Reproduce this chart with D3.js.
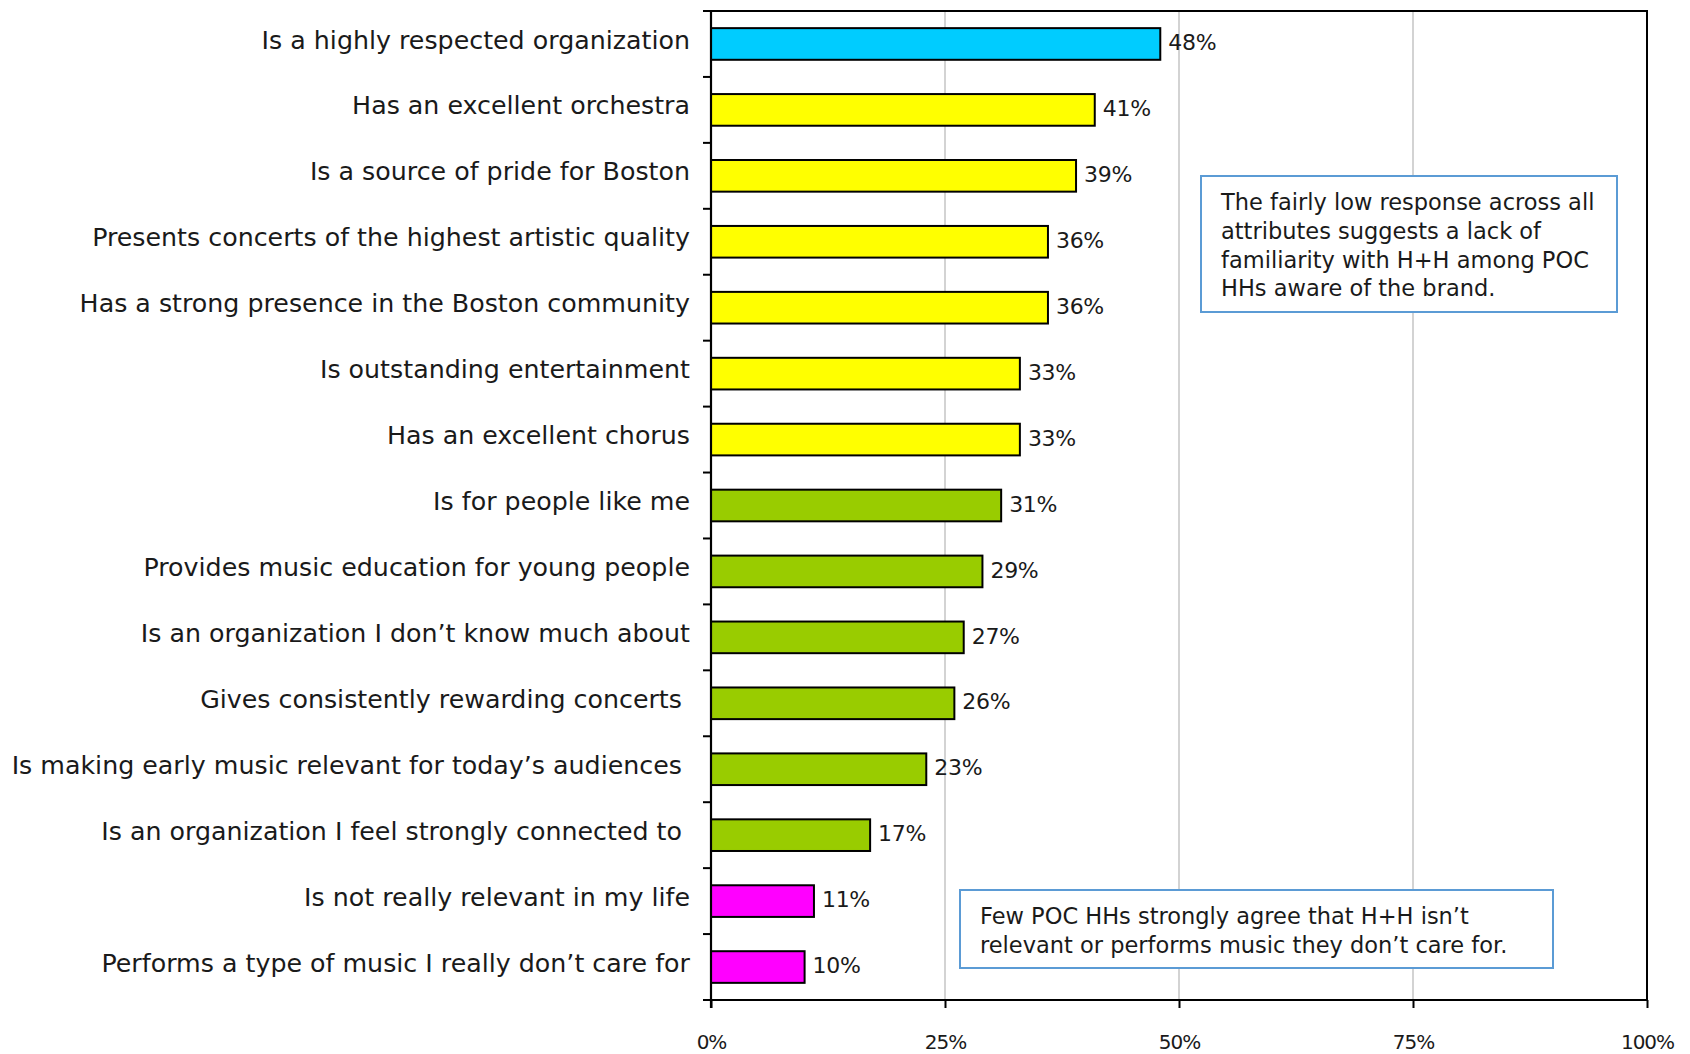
<!DOCTYPE html>
<html>
<head>
<meta charset="utf-8">
<script src="https://cdn.jsdelivr.net/npm/d3@7"></script>
<style>
  html, body { margin: 0; padding: 0; background: #ffffff; }
  svg { display: block; }
  text { font-family: "DejaVu Sans", "Noto Sans", sans-serif; fill: #1a1a1a; }
</style>
</head>
<body>
<svg id="chart" width="1690" height="1054"></svg>
<script>
// Attribute statements (top to bottom)
const categories = [
  "Is a highly respected organization",
  "Has an excellent orchestra",
  "Is a source of pride for Boston",
  "Presents concerts of the highest artistic quality",
  "Has a strong presence in the Boston community",
  "Is outstanding entertainment",
  "Has an excellent chorus",
  "Is for people like me",
  "Provides music education for young people",
  "Is an organization I don\u2019t know much about",
  "Gives consistently rewarding concerts ",
  "Is making early music relevant for today\u2019s audiences ",
  "Is an organization I feel strongly connected to ",
  "Is not really relevant in my life",
  "Performs a type of music I really don\u2019t care for"
];

// Percent strongly agreeing
const values = [48, 41, 39, 36, 36, 33, 33, 31, 29, 27, 26, 23, 17, 11, 10];

// Colour group of each statement
const groups = [
  "top", "high", "high", "high", "high", "high", "high",
  "mid", "mid", "mid", "mid", "mid", "mid",
  "neg", "neg"
];

const groupColors = { top: "#00CCFF", high: "#FFFF00", mid: "#99CC00", neg: "#FF00FF" };

const xTicks = [0, 25, 50, 75, 100];
const xTickLabels = ["0%", "25%", "50%", "75%", "100%"];

const notes = [
  ["The fairly low response across all",
   "attributes suggests a lack of",
   "familiarity with H+H among POC",
   "HHs aware of the brand."],
  ["Few POC HHs strongly agree that H+H isn\u2019t",
   "relevant or performs music they don\u2019t care for."]
];

const svg = d3.select("#chart");
const plot = { left: 711, right: 1647, top: 11, bottom: 1000 };

const x = d3.scaleLinear().domain([0, 100]).range([plot.left, plot.right]);
const y = d3.scaleBand().domain(categories).range([plot.top, plot.bottom])
  .paddingInner(0.52).paddingOuter(0.26);
const band = d3.scaleBand().domain(categories).range([plot.top, plot.bottom]);

// vertical gridlines
svg.append("g").selectAll("line").data(xTicks.filter(t => t > 0 && t < 100)).join("line")
  .attr("x1", d => x(d)).attr("x2", d => x(d))
  .attr("y1", plot.top).attr("y2", plot.bottom)
  .attr("stroke", "#c8c8c8").attr("stroke-width", 1.6);

// frame (top and right edges)
svg.append("path")
  .attr("d", `M${plot.left},${plot.top}H${plot.right}V${plot.bottom}`)
  .attr("fill", "none").attr("stroke", "#000").attr("stroke-width", 2);

// bars
svg.append("g").selectAll("rect").data(categories).join("rect")
  .attr("x", x(0))
  .attr("y", d => y(d))
  .attr("width", (d, i) => x(values[i]) - x(0))
  .attr("height", y.bandwidth())
  .attr("fill", (d, i) => groupColors[groups[i]])
  .attr("stroke", "#000").attr("stroke-width", 2);

// value labels
svg.append("g").selectAll("text").data(categories).join("text")
  .attr("x", (d, i) => x(values[i]) + 8)
  .attr("y", d => y(d) + y.bandwidth() / 2)
  .attr("dy", "0.28em")
  .attr("font-size", 22)
  .attr("letter-spacing", -0.3)
  .text((d, i) => values[i] + "%");

// left axis: ticks at band boundaries
const yBounds = categories.map(c => band(c)).concat([plot.bottom]);
svg.append("g").selectAll("line").data(yBounds).join("line")
  .attr("x1", plot.left - 8).attr("x2", plot.left)
  .attr("y1", d => d).attr("y2", d => d)
  .attr("stroke", "#000").attr("stroke-width", 2);
svg.append("line")
  .attr("x1", plot.left).attr("x2", plot.left)
  .attr("y1", plot.top - 1).attr("y2", plot.bottom + 8)
  .attr("stroke", "#000").attr("stroke-width", 2.2);

// category labels
svg.append("g").selectAll("text").data(categories).join("text")
  .attr("x", 690)
  .attr("y", d => band(d) + band.bandwidth() / 2)
  .attr("dy", "0.18em")
  .attr("text-anchor", "end")
  .attr("font-size", 25.3)
  .style("white-space", "pre")
  .text(d => d);

// bottom axis
const xAxis = d3.axisBottom(x).tickValues(xTicks)
  .tickFormat((d, i) => xTickLabels[i]).tickSize(8).tickPadding(27);
const gx = svg.append("g").attr("transform", `translate(0,${plot.bottom})`).call(xAxis);
gx.select(".domain").attr("stroke", "#000").attr("stroke-width", 2.2)
  .attr("d", `M${plot.left - 8},0H${plot.right + 1}`);
gx.selectAll(".tick line").attr("stroke", "#000").attr("stroke-width", 2);
gx.selectAll(".tick text").attr("font-size", 20).attr("letter-spacing", -1)
  .style("font-family", "\"DejaVu Sans\", sans-serif").attr("fill", "#1a1a1a");

// annotation boxes
const noteBoxes = [
  { x0: 1201, y0: 176, x1: 1617, y1: 312, tx: 1221, ty: 210, lh: 28.8 },
  { x0: 960, y0: 890, x1: 1553, y1: 968, tx: 980, ty: 924, lh: 28.5 }
];
noteBoxes.forEach((b, k) => {
  const g = svg.append("g");
  g.append("rect")
    .attr("x", b.x0).attr("y", b.y0)
    .attr("width", b.x1 - b.x0).attr("height", b.y1 - b.y0)
    .attr("fill", "#fff").attr("stroke", "#5B9BD5").attr("stroke-width", 2);
  g.selectAll("text").data(notes[k]).join("text")
    .attr("x", b.tx)
    .attr("y", (d, i) => b.ty + i * b.lh)
    .attr("font-size", 22.5)
    .text(d => d);
});
</script>
</body>
</html>
